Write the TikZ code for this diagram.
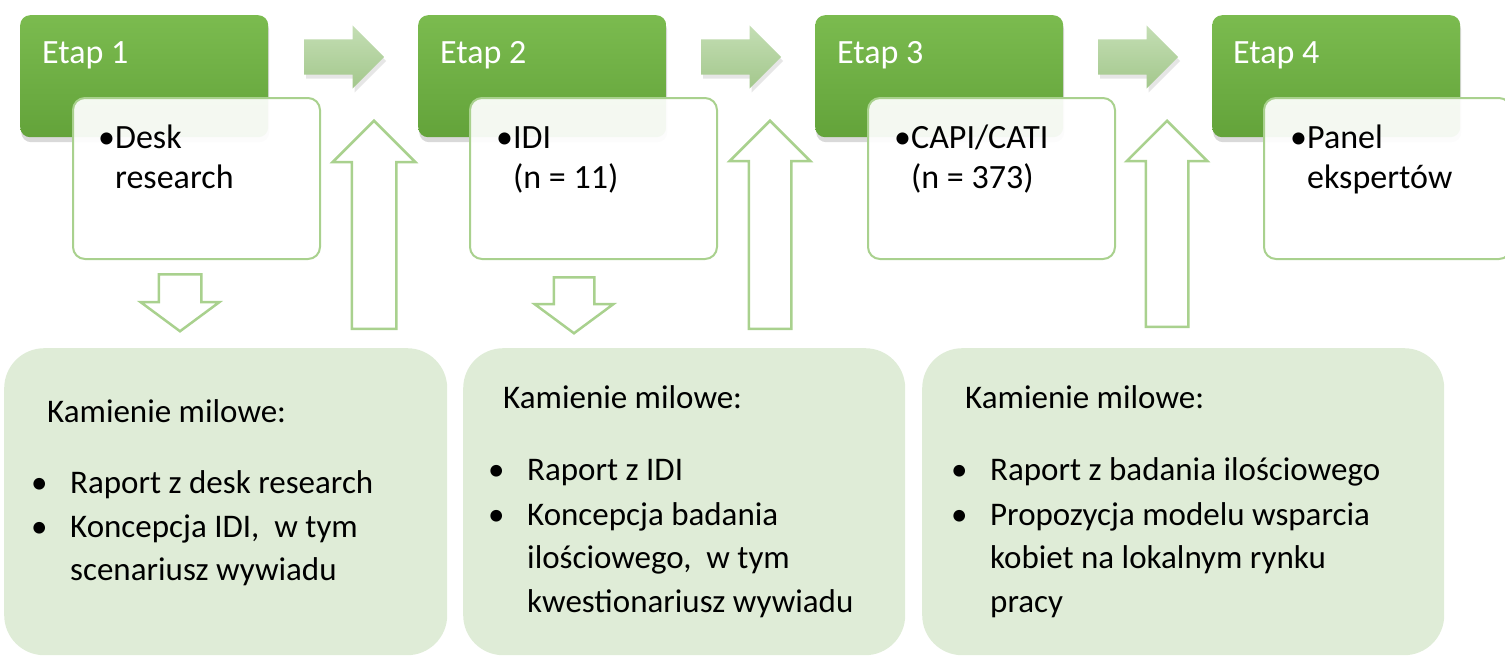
\documentclass[tikz,border=0pt]{standalone}
\usepackage{fontspec}
\setmainfont{Carlito}
\usetikzlibrary{shapes.arrows,shadows}

\definecolor{etapgora}{HTML}{7BBB4F}
\definecolor{etapdol}{HTML}{63A33A}
\definecolor{ramka}{HTML}{A9D18E}
\definecolor{tlo}{HTML}{DFECD7}
\definecolor{strzgora}{HTML}{C4DEB4}
\definecolor{strzdol}{HTML}{A3C78C}

\tikzset{
	etap/.style={rectangle, rounded corners=10pt, minimum width=248pt, minimum height=122pt, anchor=north west, top color=etapgora, bottom color=etapdol, drop shadow={shadow xshift=1pt, shadow yshift=-5pt, opacity=0.3}},
	opis/.style={rectangle, rounded corners=12pt, minimum width=247pt, minimum height=161pt, anchor=north west, draw=ramka, line width=2pt, fill=white, fill opacity=0.93},
	kamien/.style={rectangle, rounded corners=40pt, minimum height=307pt, anchor=north west, fill=tlo},
	dalej/.style={single arrow, anchor=tail, minimum height=80pt, inner xsep=0pt, inner ysep=17.5pt, single arrow head extend=14pt, top color=strzgora, bottom color=strzdol, drop shadow={shadow xshift=2pt, shadow yshift=-4pt, opacity=0.2}},
	pusta/.style={single arrow, anchor=tail, inner xsep=0pt, draw=ramka, line width=2.5pt, fill=white},
	naglowek/.style={anchor=base west, inner sep=0pt, text=white, font=\fontsize{34}{40}\selectfont},
	punkt/.style={anchor=base west, inner sep=0pt, font=\fontsize{34}{40}\selectfont},
	wiersz/.style={anchor=base west, inner sep=0pt, font=\fontsize{33}{43}\selectfont}
}

\begin{document}
\begin{tikzpicture}[x=1pt, y=-1pt]
	\useasboundingbox (0,0) rectangle (1505,657);
	% etapy
	\node[etap] (e1) at (20,15) {};
	\node[etap] (e2) at (418,15) {};
	\node[etap] (e3) at (815,15) {};
	\node[etap] (e4) at (1212,15) {};
	\node[naglowek] (t1) at (42,63) {Etap 1};
	\node[naglowek] (t2) at (440,63) {Etap 2};
	\node[naglowek] (t3) at (837,63) {Etap 3};
	\node[naglowek] (t4) at (1233,63) {Etap 4};
	% opisy
	\node[opis] (o1) at (72,97) {};
	\node[opis] (o2) at (469,97) {};
	\node[opis] (o3) at (867,97) {};
	\node[opis] (o4) at (1263,97) {};
	\node[punkt] (o1a) at (98,148) {•Desk};
	\node[punkt] (o1b) at (98,188) {\phantom{•}research};
	\node[punkt] (o2a) at (496,148) {•IDI};
	\node[punkt] (o2b) at (496,188) {\phantom{•}(n = 11)};
	\node[punkt] (o3a) at (894,148) {•CAPI/CATI};
	\node[punkt] (o3b) at (894,188) {\phantom{•}(n = 373)};
	\node[punkt] (o4a) at (1290,148) {•Panel};
	\node[punkt] (o4b) at (1290,188) {\phantom{•}ekspertów};
	% strzalki miedzy etapami
	\node[dalej] (s1) at (304,57) {};
	\node[dalej] (s2) at (701,57) {};
	\node[dalej] (s3) at (1098,57) {};
	% strzalki puste
	\node[pusta, rotate=-90, minimum height=57pt, inner ysep=20pt, single arrow head extend=18pt, single arrow tip angle=107] (d1) at (180,273) {};
	\node[pusta, rotate=-90, minimum height=56pt, inner ysep=19pt, single arrow head extend=19pt, single arrow tip angle=107] (d2) at (574,276) {};
	\node[pusta, rotate=90, minimum height=208pt, inner ysep=21pt, single arrow head extend=19pt] (g1) at (374,330) {};
	\node[pusta, rotate=90, minimum height=208pt, inner ysep=20pt, single arrow head extend=19pt] (g2) at (770,330) {};
	\node[pusta, rotate=90, minimum height=206pt, inner ysep=20pt, single arrow head extend=19pt] (g3) at (1167,328) {};
	% kamienie milowe
	\node[kamien, minimum width=443pt] (k1) at (4,348) {};
	\node[kamien, minimum width=442pt] (k2) at (463,348) {};
	\node[kamien, minimum width=522pt] (k3) at (922,348) {};
	\node[wiersz] (k1a) at (47,422) {Kamienie milowe:};
	\node[wiersz] (k1b) at (31,493) {\makebox[39pt][l]{•}Raport z desk research};
	\node[wiersz] (k1c) at (31,537) {\makebox[39pt][l]{•}Koncepcja IDI,~ w tym};
	\node[wiersz] (k1d) at (70,580) {scenariusz wywiadu};
	\node[wiersz] (k2a) at (503,408) {Kamienie milowe:};
	\node[wiersz] (k2b) at (488,480) {\makebox[39pt][l]{•}Raport z IDI};
	\node[wiersz] (k2c) at (488,525) {\makebox[39pt][l]{•}Koncepcja badania};
	\node[wiersz] (k2d) at (527,568) {ilościowego,~ w tym};
	\node[wiersz] (k2e) at (527,612) {kwestionariusz wywiadu};
	\node[wiersz] (k3a) at (965,408) {Kamienie milowe:};
	\node[wiersz] (k3b) at (951,480) {\makebox[39pt][l]{•}Raport z badania ilościowego};
	\node[wiersz] (k3c) at (951,525) {\makebox[39pt][l]{•}Propozycja modelu wsparcia};
	\node[wiersz] (k3d) at (990,568) {kobiet na lokalnym rynku};
	\node[wiersz] (k3e) at (990,612) {pracy};
\end{tikzpicture}
\end{document}
